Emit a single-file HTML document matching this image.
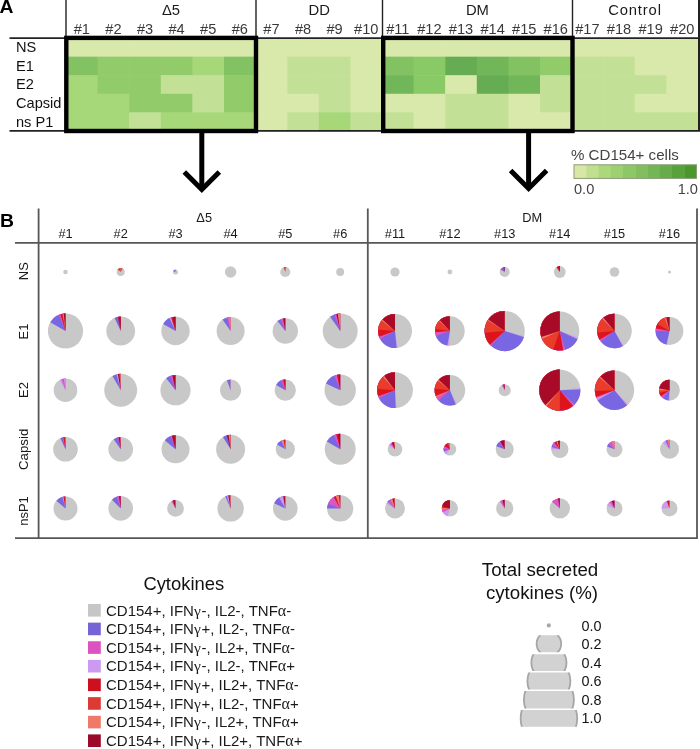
<!DOCTYPE html>
<html><head><meta charset="utf-8"><title>Figure</title>
<style>html,body{margin:0;padding:0;background:#fff;} body{width:700px;height:749px;overflow:hidden;} svg{display:block;will-change:transform;}</style>
</head><body>
<svg width="700" height="749" viewBox="0 0 700 749"><defs><clipPath id="cb0"><rect x="500" y="635.3" width="100" height="16.90000000000009"/></clipPath><clipPath id="cb1"><rect x="500" y="654.2" width="100" height="16.899999999999977"/></clipPath><clipPath id="cb2"><rect x="500" y="672.6" width="100" height="16.899999999999977"/></clipPath><clipPath id="cb3"><rect x="500" y="691.0" width="100" height="17.399999999999977"/></clipPath><clipPath id="cb4"><rect x="500" y="710.0" width="100" height="16.799999999999955"/></clipPath></defs>
<rect x="0" y="0" width="700" height="749" fill="#fff"/>
<rect x="66.00" y="38.10" width="32.20" height="19.16" fill="#d9e8ab"/>
<rect x="66.00" y="56.66" width="32.20" height="19.16" fill="#82c262"/>
<rect x="66.00" y="75.22" width="32.20" height="19.16" fill="#a6d87a"/>
<rect x="66.00" y="93.78" width="32.20" height="19.16" fill="#a6d87a"/>
<rect x="66.00" y="112.34" width="32.20" height="19.16" fill="#a6d87a"/>
<rect x="97.60" y="38.10" width="32.20" height="19.16" fill="#d9e8ab"/>
<rect x="97.60" y="56.66" width="32.20" height="19.16" fill="#92cc6a"/>
<rect x="97.60" y="75.22" width="32.20" height="19.16" fill="#92cc6a"/>
<rect x="97.60" y="93.78" width="32.20" height="19.16" fill="#a6d87a"/>
<rect x="97.60" y="112.34" width="32.20" height="19.16" fill="#a6d87a"/>
<rect x="129.20" y="38.10" width="32.20" height="19.16" fill="#d9e8ab"/>
<rect x="129.20" y="56.66" width="32.20" height="19.16" fill="#92cc6a"/>
<rect x="129.20" y="75.22" width="32.20" height="19.16" fill="#92cc6a"/>
<rect x="129.20" y="93.78" width="32.20" height="19.16" fill="#92cc6a"/>
<rect x="129.20" y="112.34" width="32.20" height="19.16" fill="#c2e196"/>
<rect x="160.80" y="38.10" width="32.20" height="19.16" fill="#d9e8ab"/>
<rect x="160.80" y="56.66" width="32.20" height="19.16" fill="#92cc6a"/>
<rect x="160.80" y="75.22" width="32.20" height="19.16" fill="#c2e196"/>
<rect x="160.80" y="93.78" width="32.20" height="19.16" fill="#92cc6a"/>
<rect x="160.80" y="112.34" width="32.20" height="19.16" fill="#a6d87a"/>
<rect x="192.40" y="38.10" width="32.20" height="19.16" fill="#d9e8ab"/>
<rect x="192.40" y="56.66" width="32.20" height="19.16" fill="#a6d87a"/>
<rect x="192.40" y="75.22" width="32.20" height="19.16" fill="#c2e196"/>
<rect x="192.40" y="93.78" width="32.20" height="19.16" fill="#c2e196"/>
<rect x="192.40" y="112.34" width="32.20" height="19.16" fill="#a6d87a"/>
<rect x="224.00" y="38.10" width="32.20" height="19.16" fill="#d9e8ab"/>
<rect x="224.00" y="56.66" width="32.20" height="19.16" fill="#82c262"/>
<rect x="224.00" y="75.22" width="32.20" height="19.16" fill="#92cc6a"/>
<rect x="224.00" y="93.78" width="32.20" height="19.16" fill="#92cc6a"/>
<rect x="224.00" y="112.34" width="32.20" height="19.16" fill="#a6d87a"/>
<rect x="255.60" y="38.10" width="32.20" height="19.16" fill="#d9e8ab"/>
<rect x="255.60" y="56.66" width="32.20" height="19.16" fill="#d9e8ab"/>
<rect x="255.60" y="75.22" width="32.20" height="19.16" fill="#d9e8ab"/>
<rect x="255.60" y="93.78" width="32.20" height="19.16" fill="#d9e8ab"/>
<rect x="255.60" y="112.34" width="32.20" height="19.16" fill="#d9e8ab"/>
<rect x="287.20" y="38.10" width="32.20" height="19.16" fill="#d9e8ab"/>
<rect x="287.20" y="56.66" width="32.20" height="19.16" fill="#c2e196"/>
<rect x="287.20" y="75.22" width="32.20" height="19.16" fill="#c2e196"/>
<rect x="287.20" y="93.78" width="32.20" height="19.16" fill="#d9e8ab"/>
<rect x="287.20" y="112.34" width="32.20" height="19.16" fill="#c2e196"/>
<rect x="318.80" y="38.10" width="32.20" height="19.16" fill="#d9e8ab"/>
<rect x="318.80" y="56.66" width="32.20" height="19.16" fill="#c2e196"/>
<rect x="318.80" y="75.22" width="32.20" height="19.16" fill="#c2e196"/>
<rect x="318.80" y="93.78" width="32.20" height="19.16" fill="#c2e196"/>
<rect x="318.80" y="112.34" width="32.20" height="19.16" fill="#a6d87a"/>
<rect x="350.40" y="38.10" width="32.20" height="19.16" fill="#d9e8ab"/>
<rect x="350.40" y="56.66" width="32.20" height="19.16" fill="#d9e8ab"/>
<rect x="350.40" y="75.22" width="32.20" height="19.16" fill="#d9e8ab"/>
<rect x="350.40" y="93.78" width="32.20" height="19.16" fill="#d9e8ab"/>
<rect x="350.40" y="112.34" width="32.20" height="19.16" fill="#c2e196"/>
<rect x="382.00" y="38.10" width="32.20" height="19.16" fill="#d9e8ab"/>
<rect x="382.00" y="56.66" width="32.20" height="19.16" fill="#82c262"/>
<rect x="382.00" y="75.22" width="32.20" height="19.16" fill="#72b65a"/>
<rect x="382.00" y="93.78" width="32.20" height="19.16" fill="#d9e8ab"/>
<rect x="382.00" y="112.34" width="32.20" height="19.16" fill="#c2e196"/>
<rect x="413.60" y="38.10" width="32.20" height="19.16" fill="#d9e8ab"/>
<rect x="413.60" y="56.66" width="32.20" height="19.16" fill="#8aca66"/>
<rect x="413.60" y="75.22" width="32.20" height="19.16" fill="#8aca66"/>
<rect x="413.60" y="93.78" width="32.20" height="19.16" fill="#d9e8ab"/>
<rect x="413.60" y="112.34" width="32.20" height="19.16" fill="#d9e8ab"/>
<rect x="445.20" y="38.10" width="32.20" height="19.16" fill="#d9e8ab"/>
<rect x="445.20" y="56.66" width="32.20" height="19.16" fill="#66ac52"/>
<rect x="445.20" y="75.22" width="32.20" height="19.16" fill="#d9e8ab"/>
<rect x="445.20" y="93.78" width="32.20" height="19.16" fill="#c2e196"/>
<rect x="445.20" y="112.34" width="32.20" height="19.16" fill="#c2e196"/>
<rect x="476.80" y="38.10" width="32.20" height="19.16" fill="#d9e8ab"/>
<rect x="476.80" y="56.66" width="32.20" height="19.16" fill="#72b65a"/>
<rect x="476.80" y="75.22" width="32.20" height="19.16" fill="#66ac52"/>
<rect x="476.80" y="93.78" width="32.20" height="19.16" fill="#c2e196"/>
<rect x="476.80" y="112.34" width="32.20" height="19.16" fill="#c2e196"/>
<rect x="508.40" y="38.10" width="32.20" height="19.16" fill="#d9e8ab"/>
<rect x="508.40" y="56.66" width="32.20" height="19.16" fill="#82c262"/>
<rect x="508.40" y="75.22" width="32.20" height="19.16" fill="#72b65a"/>
<rect x="508.40" y="93.78" width="32.20" height="19.16" fill="#d9e8ab"/>
<rect x="508.40" y="112.34" width="32.20" height="19.16" fill="#d9e8ab"/>
<rect x="540.00" y="38.10" width="32.20" height="19.16" fill="#d9e8ab"/>
<rect x="540.00" y="56.66" width="32.20" height="19.16" fill="#92cc6a"/>
<rect x="540.00" y="75.22" width="32.20" height="19.16" fill="#c2e196"/>
<rect x="540.00" y="93.78" width="32.20" height="19.16" fill="#c2e196"/>
<rect x="540.00" y="112.34" width="32.20" height="19.16" fill="#d9e8ab"/>
<rect x="571.60" y="38.10" width="32.20" height="19.16" fill="#d9e8ab"/>
<rect x="571.60" y="56.66" width="32.20" height="19.16" fill="#c2e196"/>
<rect x="571.60" y="75.22" width="32.20" height="19.16" fill="#c2e196"/>
<rect x="571.60" y="93.78" width="32.20" height="19.16" fill="#c2e196"/>
<rect x="571.60" y="112.34" width="32.20" height="19.16" fill="#c2e196"/>
<rect x="603.20" y="38.10" width="32.20" height="19.16" fill="#d9e8ab"/>
<rect x="603.20" y="56.66" width="32.20" height="19.16" fill="#c2e196"/>
<rect x="603.20" y="75.22" width="32.20" height="19.16" fill="#c2e196"/>
<rect x="603.20" y="93.78" width="32.20" height="19.16" fill="#c2e196"/>
<rect x="603.20" y="112.34" width="32.20" height="19.16" fill="#c2e196"/>
<rect x="634.80" y="38.10" width="32.20" height="19.16" fill="#d9e8ab"/>
<rect x="634.80" y="56.66" width="32.20" height="19.16" fill="#d9e8ab"/>
<rect x="634.80" y="75.22" width="32.20" height="19.16" fill="#c2e196"/>
<rect x="634.80" y="93.78" width="32.20" height="19.16" fill="#d9e8ab"/>
<rect x="634.80" y="112.34" width="32.20" height="19.16" fill="#c2e196"/>
<rect x="666.40" y="38.10" width="32.20" height="19.16" fill="#d9e8ab"/>
<rect x="666.40" y="56.66" width="32.20" height="19.16" fill="#d9e8ab"/>
<rect x="666.40" y="75.22" width="32.20" height="19.16" fill="#d9e8ab"/>
<rect x="666.40" y="93.78" width="32.20" height="19.16" fill="#d9e8ab"/>
<rect x="666.40" y="112.34" width="32.20" height="19.16" fill="#c2e196"/>
<line x1="9.5" y1="38.1" x2="698.0" y2="38.1" stroke="#222" stroke-width="1.6"/>
<line x1="9.5" y1="130.9" x2="698.0" y2="130.9" stroke="#222" stroke-width="1.6"/>
<line x1="66.0" y1="0" x2="66.0" y2="38.1" stroke="#222" stroke-width="1.4"/>
<line x1="256.0" y1="0" x2="256.0" y2="38.1" stroke="#222" stroke-width="1.4"/>
<line x1="382.5" y1="0" x2="382.5" y2="38.1" stroke="#222" stroke-width="1.4"/>
<line x1="572.5" y1="0" x2="572.5" y2="38.1" stroke="#222" stroke-width="1.4"/>
<line x1="699" y1="0" x2="699" y2="131.70000000000002" stroke="#222" stroke-width="2"/>
<rect x="66.3" y="37.9" width="189.7" height="93.1" fill="none" stroke="#000" stroke-width="4.4"/>
<rect x="383.2" y="37.9" width="189.3" height="93.1" fill="none" stroke="#000" stroke-width="4.4"/>
<text transform="translate(-0.6,12.9) scale(1.04,1)" x="0" y="0" font-family='"Liberation Sans", sans-serif' font-weight="bold" font-size="18.6" fill="#000">A</text>
<text x="81.8" y="34.3" text-anchor="middle" font-family='"Liberation Sans", sans-serif' font-size="14.6" fill="#3a3a3a">#1</text>
<text x="113.4" y="34.3" text-anchor="middle" font-family='"Liberation Sans", sans-serif' font-size="14.6" fill="#3a3a3a">#2</text>
<text x="145.0" y="34.3" text-anchor="middle" font-family='"Liberation Sans", sans-serif' font-size="14.6" fill="#3a3a3a">#3</text>
<text x="176.6" y="34.3" text-anchor="middle" font-family='"Liberation Sans", sans-serif' font-size="14.6" fill="#3a3a3a">#4</text>
<text x="208.2" y="34.3" text-anchor="middle" font-family='"Liberation Sans", sans-serif' font-size="14.6" fill="#3a3a3a">#5</text>
<text x="239.8" y="34.3" text-anchor="middle" font-family='"Liberation Sans", sans-serif' font-size="14.6" fill="#3a3a3a">#6</text>
<text x="271.4" y="34.3" text-anchor="middle" font-family='"Liberation Sans", sans-serif' font-size="14.6" fill="#3a3a3a">#7</text>
<text x="303.0" y="34.3" text-anchor="middle" font-family='"Liberation Sans", sans-serif' font-size="14.6" fill="#3a3a3a">#8</text>
<text x="334.6" y="34.3" text-anchor="middle" font-family='"Liberation Sans", sans-serif' font-size="14.6" fill="#3a3a3a">#9</text>
<text x="366.2" y="34.3" text-anchor="middle" font-family='"Liberation Sans", sans-serif' font-size="14.6" fill="#3a3a3a">#10</text>
<text x="397.8" y="34.3" text-anchor="middle" font-family='"Liberation Sans", sans-serif' font-size="14.6" fill="#3a3a3a">#11</text>
<text x="429.4" y="34.3" text-anchor="middle" font-family='"Liberation Sans", sans-serif' font-size="14.6" fill="#3a3a3a">#12</text>
<text x="461.0" y="34.3" text-anchor="middle" font-family='"Liberation Sans", sans-serif' font-size="14.6" fill="#3a3a3a">#13</text>
<text x="492.6" y="34.3" text-anchor="middle" font-family='"Liberation Sans", sans-serif' font-size="14.6" fill="#3a3a3a">#14</text>
<text x="524.2" y="34.3" text-anchor="middle" font-family='"Liberation Sans", sans-serif' font-size="14.6" fill="#3a3a3a">#15</text>
<text x="555.8" y="34.3" text-anchor="middle" font-family='"Liberation Sans", sans-serif' font-size="14.6" fill="#3a3a3a">#16</text>
<text x="587.4" y="34.3" text-anchor="middle" font-family='"Liberation Sans", sans-serif' font-size="14.6" fill="#3a3a3a">#17</text>
<text x="619.0" y="34.3" text-anchor="middle" font-family='"Liberation Sans", sans-serif' font-size="14.6" fill="#3a3a3a">#18</text>
<text x="650.6" y="34.3" text-anchor="middle" font-family='"Liberation Sans", sans-serif' font-size="14.6" fill="#3a3a3a">#19</text>
<text x="682.2" y="34.3" text-anchor="middle" font-family='"Liberation Sans", sans-serif' font-size="14.6" fill="#3a3a3a">#20</text>
<text x="171.0" y="15.0" text-anchor="middle" font-family='"Liberation Sans", sans-serif' font-size="14.8" fill="#1a1a1a">Δ5</text>
<text x="319.2" y="15.0" text-anchor="middle" font-family='"Liberation Sans", sans-serif' font-size="14.8" fill="#1a1a1a">DD</text>
<text x="477.4" y="15.0" text-anchor="middle" font-family='"Liberation Sans", sans-serif' font-size="14.8" fill="#1a1a1a">DM</text>
<text x="635.0" y="15.0" text-anchor="middle" font-family='"Liberation Sans", sans-serif' font-size="14.8" fill="#1a1a1a" letter-spacing="0.85">Control</text>
<text x="16" y="52.0" font-family='"Liberation Sans", sans-serif' font-size="14.6" fill="#111">NS</text>
<text x="16" y="70.8" font-family='"Liberation Sans", sans-serif' font-size="14.6" fill="#111">E1</text>
<text x="16" y="89.2" font-family='"Liberation Sans", sans-serif' font-size="14.6" fill="#111">E2</text>
<text x="16" y="107.8" font-family='"Liberation Sans", sans-serif' font-size="14.6" fill="#111">Capsid</text>
<text x="16" y="126.5" font-family='"Liberation Sans", sans-serif' font-size="14.6" fill="#111">ns P1</text>
<line x1="201.8" y1="131" x2="201.8" y2="187.5" stroke="#000" stroke-width="5"/>
<polyline points="184.3,172.0 201.8,189.5 219.3,172.0" fill="none" stroke="#000" stroke-width="5" stroke-linejoin="miter" stroke-miterlimit="10"/>
<line x1="528.6" y1="131" x2="528.6" y2="186.5" stroke="#000" stroke-width="5"/>
<polyline points="510.6,170.5 528.6,188.5 546.6,170.5" fill="none" stroke="#000" stroke-width="5" stroke-linejoin="miter" stroke-miterlimit="10"/>
<text x="571" y="159.6" font-family='"Liberation Sans", sans-serif' font-size="15.1" fill="#444">% CD154+ cells</text>
<rect x="574.00" y="164.8" width="12.65" height="13.6" fill="#d8e6a6"/>
<rect x="586.25" y="164.8" width="12.65" height="13.6" fill="#c0e090"/>
<rect x="598.50" y="164.8" width="12.65" height="13.6" fill="#aad87a"/>
<rect x="610.75" y="164.8" width="12.65" height="13.6" fill="#9cd070"/>
<rect x="623.00" y="164.8" width="12.65" height="13.6" fill="#8ec866"/>
<rect x="635.25" y="164.8" width="12.65" height="13.6" fill="#82be5e"/>
<rect x="647.50" y="164.8" width="12.65" height="13.6" fill="#74b656"/>
<rect x="659.75" y="164.8" width="12.65" height="13.6" fill="#66ac4a"/>
<rect x="672.00" y="164.8" width="12.65" height="13.6" fill="#58a23c"/>
<rect x="684.25" y="164.8" width="12.65" height="13.6" fill="#4a982c"/>
<rect x="574.0" y="164.8" width="122.5" height="13.6" fill="none" stroke="#8c9c78" stroke-width="1"/>
<text x="574" y="194" font-family='"Liberation Sans", sans-serif' font-size="14.6" fill="#444">0.0</text>
<text x="698" y="194" text-anchor="end" font-family='"Liberation Sans", sans-serif' font-size="14.6" fill="#444">1.0</text>
<text transform="translate(-0.1,226.9) scale(1.04,1)" x="0" y="0" font-family='"Liberation Sans", sans-serif' font-weight="bold" font-size="18.6" fill="#000">B</text>
<line x1="15" y1="242.8" x2="697" y2="242.8" stroke="#575757" stroke-width="1.8"/>
<line x1="15" y1="538.2" x2="697.5" y2="538.2" stroke="#575757" stroke-width="1.8"/>
<line x1="38.6" y1="208.5" x2="38.6" y2="538.2" stroke="#575757" stroke-width="1.8"/>
<line x1="367.8" y1="208.5" x2="367.8" y2="538.2" stroke="#575757" stroke-width="1.8"/>
<line x1="697.0" y1="208.5" x2="697.0" y2="538.9" stroke="#575757" stroke-width="1.8"/>
<text x="65.5" y="238.4" text-anchor="middle" font-family='"Liberation Sans", sans-serif' font-size="12.8" fill="#1a1a1a">#1</text>
<text x="120.7" y="238.4" text-anchor="middle" font-family='"Liberation Sans", sans-serif' font-size="12.8" fill="#1a1a1a">#2</text>
<text x="175.5" y="238.4" text-anchor="middle" font-family='"Liberation Sans", sans-serif' font-size="12.8" fill="#1a1a1a">#3</text>
<text x="230.6" y="238.4" text-anchor="middle" font-family='"Liberation Sans", sans-serif' font-size="12.8" fill="#1a1a1a">#4</text>
<text x="285.3" y="238.4" text-anchor="middle" font-family='"Liberation Sans", sans-serif' font-size="12.8" fill="#1a1a1a">#5</text>
<text x="340.2" y="238.4" text-anchor="middle" font-family='"Liberation Sans", sans-serif' font-size="12.8" fill="#1a1a1a">#6</text>
<text x="395.0" y="238.4" text-anchor="middle" font-family='"Liberation Sans", sans-serif' font-size="12.8" fill="#1a1a1a">#11</text>
<text x="449.9" y="238.4" text-anchor="middle" font-family='"Liberation Sans", sans-serif' font-size="12.8" fill="#1a1a1a">#12</text>
<text x="504.7" y="238.4" text-anchor="middle" font-family='"Liberation Sans", sans-serif' font-size="12.8" fill="#1a1a1a">#13</text>
<text x="559.8" y="238.4" text-anchor="middle" font-family='"Liberation Sans", sans-serif' font-size="12.8" fill="#1a1a1a">#14</text>
<text x="614.5" y="238.4" text-anchor="middle" font-family='"Liberation Sans", sans-serif' font-size="12.8" fill="#1a1a1a">#15</text>
<text x="669.5" y="238.4" text-anchor="middle" font-family='"Liberation Sans", sans-serif' font-size="12.8" fill="#1a1a1a">#16</text>
<text x="204.2" y="221.6" text-anchor="middle" font-family='"Liberation Sans", sans-serif' font-size="12.8" fill="#1a1a1a">Δ5</text>
<text x="532.3" y="222.3" text-anchor="middle" font-family='"Liberation Sans", sans-serif' font-size="12.8" fill="#1a1a1a">DM</text>
<text transform="translate(28.2,271.2) rotate(-90)" text-anchor="middle" font-family='"Liberation Sans", sans-serif' font-size="13" fill="#1a1a1a">NS</text>
<text transform="translate(28.2,331.5) rotate(-90)" text-anchor="middle" font-family='"Liberation Sans", sans-serif' font-size="13" fill="#1a1a1a">E1</text>
<text transform="translate(28.2,390.0) rotate(-90)" text-anchor="middle" font-family='"Liberation Sans", sans-serif' font-size="13" fill="#1a1a1a">E2</text>
<text transform="translate(28.2,449.4) rotate(-90)" text-anchor="middle" font-family='"Liberation Sans", sans-serif' font-size="13.3" fill="#1a1a1a">Capsid</text>
<text transform="translate(28.2,511.0) rotate(-90)" text-anchor="middle" font-family='"Liberation Sans", sans-serif' font-size="13" fill="#1a1a1a">nsP1</text>
<circle cx="65.5" cy="272.0" r="2.3" fill="#c8c8c8"/>
<circle cx="120.7" cy="272.0" r="4.0" fill="#c8c8c8"/>
<path d="M120.70,272.00 L117.64,269.43 A4.0,4.0 0 0 1 120.70,268.00 Z" fill="#ea3c2a"/>
<path d="M120.70,272.00 L120.70,268.00 A4.0,4.0 0 0 1 122.70,268.54 Z" fill="#ea3c2a"/>
<circle cx="175.5" cy="272.0" r="2.5" fill="#c8c8c8"/>
<path d="M175.50,272.00 L173.15,271.14 A2.5,2.5 0 0 1 175.50,269.50 Z" fill="#7866e2"/>
<circle cx="230.6" cy="272.0" r="5.7" fill="#c8c8c8"/>
<circle cx="285.3" cy="272.0" r="5.1" fill="#c8c8c8"/>
<path d="M285.30,272.00 L283.56,267.21 A5.1,5.1 0 0 1 285.30,266.90 Z" fill="#ea3c2a"/>
<path d="M285.30,272.00 L285.30,266.90 A5.1,5.1 0 0 1 286.36,267.01 Z" fill="#ea3c2a"/>
<circle cx="340.2" cy="272.0" r="4.0" fill="#c8c8c8"/>
<circle cx="395.0" cy="272.0" r="4.6" fill="#c8c8c8"/>
<circle cx="449.9" cy="272.0" r="2.4" fill="#c8c8c8"/>
<circle cx="504.7" cy="272.0" r="5.0" fill="#c8c8c8"/>
<path d="M504.70,272.00 L500.37,269.50 A5.0,5.0 0 0 1 504.70,267.00 Z" fill="#7866e2"/>
<path d="M504.70,272.00 L503.41,267.17 A5.0,5.0 0 0 1 504.70,267.00 Z" fill="#a80a28"/>
<circle cx="559.8" cy="272.0" r="5.9" fill="#c8c8c8"/>
<path d="M559.80,272.00 L556.42,267.17 A5.9,5.9 0 0 1 559.80,266.10 Z" fill="#de141c"/>
<path d="M559.80,272.00 L558.57,266.23 A5.9,5.9 0 0 1 559.80,266.10 Z" fill="#a80a28"/>
<circle cx="614.5" cy="272.0" r="4.8" fill="#c8c8c8"/>
<circle cx="669.5" cy="272.0" r="1.5" fill="#c8c8c8"/>
<circle cx="65.5" cy="331.0" r="17.6" fill="#c8c8c8"/>
<path d="M65.50,331.00 L50.26,322.20 A17.6,17.6 0 0 1 65.50,313.40 Z" fill="#7866e2"/>
<path d="M65.50,331.00 L58.91,314.68 A17.6,17.6 0 0 1 65.50,313.40 Z" fill="#dd55c4"/>
<path d="M65.50,331.00 L60.35,314.17 A17.6,17.6 0 0 1 65.50,313.40 Z" fill="#de141c"/>
<path d="M65.50,331.00 L62.44,313.67 A17.6,17.6 0 0 1 65.50,313.40 Z" fill="#f27c6c"/>
<path d="M65.50,331.00 L63.66,313.50 A17.6,17.6 0 0 1 65.50,313.40 Z" fill="#a80a28"/>
<circle cx="120.7" cy="331.0" r="14.4" fill="#c8c8c8"/>
<path d="M120.70,331.00 L114.61,317.95 A14.4,14.4 0 0 1 120.70,316.60 Z" fill="#7866e2"/>
<path d="M120.70,331.00 L117.71,316.91 A14.4,14.4 0 0 1 120.70,316.60 Z" fill="#de141c"/>
<path d="M120.70,331.00 L119.19,316.68 A14.4,14.4 0 0 1 120.70,316.60 Z" fill="#a80a28"/>
<circle cx="175.5" cy="331.0" r="14.2" fill="#c8c8c8"/>
<path d="M175.50,331.00 L163.20,323.90 A14.2,14.2 0 0 1 175.50,316.80 Z" fill="#7866e2"/>
<path d="M175.50,331.00 L169.50,318.13 A14.2,14.2 0 0 1 175.50,316.80 Z" fill="#cc99ee"/>
<path d="M175.50,331.00 L171.11,317.49 A14.2,14.2 0 0 1 175.50,316.80 Z" fill="#de141c"/>
<path d="M175.50,331.00 L173.03,317.02 A14.2,14.2 0 0 1 175.50,316.80 Z" fill="#a80a28"/>
<circle cx="230.6" cy="331.0" r="14.0" fill="#c8c8c8"/>
<path d="M230.60,331.00 L222.57,319.53 A14.0,14.0 0 0 1 230.60,317.00 Z" fill="#7866e2"/>
<path d="M230.60,331.00 L226.98,317.48 A14.0,14.0 0 0 1 230.60,317.00 Z" fill="#dd55c4"/>
<path d="M230.60,331.00 L228.65,317.14 A14.0,14.0 0 0 1 230.60,317.00 Z" fill="#f27c6c"/>
<circle cx="285.3" cy="331.0" r="12.7" fill="#c8c8c8"/>
<path d="M285.30,331.00 L277.48,320.99 A12.7,12.7 0 0 1 285.30,318.30 Z" fill="#7866e2"/>
<path d="M285.30,331.00 L280.54,319.22 A12.7,12.7 0 0 1 285.30,318.30 Z" fill="#dd55c4"/>
<path d="M285.30,331.00 L283.09,318.49 A12.7,12.7 0 0 1 285.30,318.30 Z" fill="#a80a28"/>
<circle cx="340.2" cy="331.0" r="17.5" fill="#c8c8c8"/>
<path d="M340.20,331.00 L330.16,316.66 A17.5,17.5 0 0 1 340.20,313.50 Z" fill="#7866e2"/>
<path d="M340.20,331.00 L334.21,314.56 A17.5,17.5 0 0 1 340.20,313.50 Z" fill="#dd55c4"/>
<path d="M340.20,331.00 L336.26,313.95 A17.5,17.5 0 0 1 340.20,313.50 Z" fill="#a80a28"/>
<path d="M340.20,331.00 L337.76,313.67 A17.5,17.5 0 0 1 340.20,313.50 Z" fill="#f27c6c"/>
<circle cx="395.0" cy="331.0" r="17.0" fill="#c8c8c8"/>
<path d="M395.00,331.00 L397.66,347.79 A17.0,17.0 0 1 1 395.00,314.00 Z" fill="#cc99ee"/>
<path d="M395.00,331.00 L396.48,347.94 A17.0,17.0 0 1 1 395.00,314.00 Z" fill="#7866e2"/>
<path d="M395.00,331.00 L379.99,338.98 A17.0,17.0 0 0 1 395.00,314.00 Z" fill="#dd55c4"/>
<path d="M395.00,331.00 L379.03,336.81 A17.0,17.0 0 0 1 395.00,314.00 Z" fill="#de141c"/>
<path d="M395.00,331.00 L378.06,329.52 A17.0,17.0 0 0 1 395.00,314.00 Z" fill="#ea3c2a"/>
<path d="M395.00,331.00 L381.60,320.53 A17.0,17.0 0 0 1 395.00,314.00 Z" fill="#f27c6c"/>
<path d="M395.00,331.00 L382.37,319.62 A17.0,17.0 0 0 1 395.00,314.00 Z" fill="#a80a28"/>
<circle cx="449.9" cy="331.0" r="14.8" fill="#c8c8c8"/>
<path d="M449.90,331.00 L449.13,345.78 A14.8,14.8 0 0 1 449.90,316.20 Z" fill="#cc99ee"/>
<path d="M449.90,331.00 L447.33,345.58 A14.8,14.8 0 0 1 449.90,316.20 Z" fill="#7866e2"/>
<path d="M449.90,331.00 L435.99,336.06 A14.8,14.8 0 0 1 449.90,316.20 Z" fill="#dd55c4"/>
<path d="M449.90,331.00 L435.16,332.29 A14.8,14.8 0 0 1 449.90,316.20 Z" fill="#de141c"/>
<path d="M449.90,331.00 L435.24,328.94 A14.8,14.8 0 0 1 449.90,316.20 Z" fill="#ea3c2a"/>
<path d="M449.90,331.00 L439.08,320.91 A14.8,14.8 0 0 1 449.90,316.20 Z" fill="#f27c6c"/>
<path d="M449.90,331.00 L439.81,320.18 A14.8,14.8 0 0 1 449.90,316.20 Z" fill="#a80a28"/>
<circle cx="504.7" cy="331.0" r="20.1" fill="#c8c8c8"/>
<path d="M504.70,331.00 L524.12,336.20 A20.1,20.1 0 1 1 504.70,310.90 Z" fill="#cc99ee"/>
<path d="M504.70,331.00 L523.82,337.21 A20.1,20.1 0 1 1 504.70,310.90 Z" fill="#7866e2"/>
<path d="M504.70,331.00 L490.99,345.70 A20.1,20.1 0 0 1 504.70,310.90 Z" fill="#dd55c4"/>
<path d="M504.70,331.00 L490.00,344.71 A20.1,20.1 0 0 1 504.70,310.90 Z" fill="#de141c"/>
<path d="M504.70,331.00 L484.68,332.75 A20.1,20.1 0 0 1 504.70,310.90 Z" fill="#ea3c2a"/>
<path d="M504.70,331.00 L487.65,320.35 A20.1,20.1 0 0 1 504.70,310.90 Z" fill="#f27c6c"/>
<path d="M504.70,331.00 L488.24,319.47 A20.1,20.1 0 0 1 504.70,310.90 Z" fill="#a80a28"/>
<circle cx="559.8" cy="331.0" r="19.5" fill="#c8c8c8"/>
<path d="M559.80,331.00 L578.12,337.67 A19.5,19.5 0 1 1 559.80,311.50 Z" fill="#cc99ee"/>
<path d="M559.80,331.00 L577.47,339.24 A19.5,19.5 0 1 1 559.80,311.50 Z" fill="#7866e2"/>
<path d="M559.80,331.00 L565.50,349.65 A19.5,19.5 0 1 1 559.80,311.50 Z" fill="#dd55c4"/>
<path d="M559.80,331.00 L563.19,350.20 A19.5,19.5 0 1 1 559.80,311.50 Z" fill="#de141c"/>
<path d="M559.80,331.00 L553.13,349.32 A19.5,19.5 0 0 1 559.80,311.50 Z" fill="#ea3c2a"/>
<path d="M559.80,331.00 L541.99,338.93 A19.5,19.5 0 0 1 559.80,311.50 Z" fill="#f27c6c"/>
<path d="M559.80,331.00 L541.25,337.03 A19.5,19.5 0 0 1 559.80,311.50 Z" fill="#a80a28"/>
<circle cx="614.5" cy="331.0" r="17.3" fill="#c8c8c8"/>
<path d="M614.50,331.00 L623.67,345.67 A17.3,17.3 0 1 1 614.50,313.70 Z" fill="#cc99ee"/>
<path d="M614.50,331.00 L622.62,346.27 A17.3,17.3 0 1 1 614.50,313.70 Z" fill="#7866e2"/>
<path d="M614.50,331.00 L600.68,341.41 A17.3,17.3 0 0 1 614.50,313.70 Z" fill="#dd55c4"/>
<path d="M614.50,331.00 L599.52,339.65 A17.3,17.3 0 0 1 614.50,313.70 Z" fill="#de141c"/>
<path d="M614.50,331.00 L597.27,332.51 A17.3,17.3 0 0 1 614.50,313.70 Z" fill="#ea3c2a"/>
<path d="M614.50,331.00 L602.27,318.77 A17.3,17.3 0 0 1 614.50,313.70 Z" fill="#f27c6c"/>
<path d="M614.50,331.00 L603.38,317.75 A17.3,17.3 0 0 1 614.50,313.70 Z" fill="#a80a28"/>
<circle cx="669.5" cy="331.0" r="13.9" fill="#c8c8c8"/>
<path d="M669.50,331.00 L667.33,344.73 A13.9,13.9 0 0 1 669.50,317.10 Z" fill="#cc99ee"/>
<path d="M669.50,331.00 L666.37,344.54 A13.9,13.9 0 0 1 669.50,317.10 Z" fill="#7866e2"/>
<path d="M669.50,331.00 L655.60,331.00 A13.9,13.9 0 0 1 669.50,317.10 Z" fill="#dd55c4"/>
<path d="M669.50,331.00 L655.81,328.59 A13.9,13.9 0 0 1 669.50,317.10 Z" fill="#de141c"/>
<path d="M669.50,331.00 L657.46,324.05 A13.9,13.9 0 0 1 669.50,317.10 Z" fill="#ea3c2a"/>
<path d="M669.50,331.00 L664.75,317.94 A13.9,13.9 0 0 1 669.50,317.10 Z" fill="#f27c6c"/>
<path d="M669.50,331.00 L666.14,317.51 A13.9,13.9 0 0 1 669.50,317.10 Z" fill="#a80a28"/>
<circle cx="65.5" cy="390.2" r="11.8" fill="#c8c8c8"/>
<path d="M65.50,390.20 L59.60,379.98 A11.8,11.8 0 0 1 65.50,378.40 Z" fill="#cc99ee"/>
<path d="M65.50,390.20 L61.46,379.11 A11.8,11.8 0 0 1 65.50,378.40 Z" fill="#dd55c4"/>
<path d="M65.50,390.20 L63.86,378.51 A11.8,11.8 0 0 1 65.50,378.40 Z" fill="#cc99ee"/>
<circle cx="120.7" cy="390.2" r="16.5" fill="#c8c8c8"/>
<path d="M120.70,390.20 L112.45,375.91 A16.5,16.5 0 0 1 120.70,373.70 Z" fill="#7866e2"/>
<path d="M120.70,390.20 L116.43,374.26 A16.5,16.5 0 0 1 120.70,373.70 Z" fill="#cc99ee"/>
<path d="M120.70,390.20 L117.83,373.95 A16.5,16.5 0 0 1 120.70,373.70 Z" fill="#a80a28"/>
<path d="M120.70,390.20 L119.55,373.74 A16.5,16.5 0 0 1 120.70,373.70 Z" fill="#f27c6c"/>
<circle cx="175.5" cy="390.2" r="15.1" fill="#c8c8c8"/>
<path d="M175.50,390.20 L166.20,378.30 A15.1,15.1 0 0 1 175.50,375.10 Z" fill="#7866e2"/>
<path d="M175.50,390.20 L170.34,376.01 A15.1,15.1 0 0 1 175.50,375.10 Z" fill="#dd55c4"/>
<path d="M175.50,390.20 L172.36,375.43 A15.1,15.1 0 0 1 175.50,375.10 Z" fill="#a80a28"/>
<circle cx="230.6" cy="390.2" r="10.6" fill="#c8c8c8"/>
<path d="M230.60,390.20 L226.97,380.24 A10.6,10.6 0 0 1 230.60,379.60 Z" fill="#7866e2"/>
<path d="M230.60,390.20 L230.23,379.61 A10.6,10.6 0 0 1 230.60,379.60 Z" fill="#f27c6c"/>
<circle cx="285.3" cy="390.2" r="10.6" fill="#c8c8c8"/>
<path d="M285.30,390.20 L276.12,384.90 A10.6,10.6 0 0 1 285.30,379.60 Z" fill="#7866e2"/>
<path d="M285.30,390.20 L280.82,380.59 A10.6,10.6 0 0 1 285.30,379.60 Z" fill="#dd55c4"/>
<path d="M285.30,390.20 L283.10,379.83 A10.6,10.6 0 0 1 285.30,379.60 Z" fill="#de141c"/>
<path d="M285.30,390.20 L284.56,379.63 A10.6,10.6 0 0 1 285.30,379.60 Z" fill="#a80a28"/>
<circle cx="340.2" cy="390.2" r="15.7" fill="#c8c8c8"/>
<path d="M340.20,390.20 L325.97,383.56 A15.7,15.7 0 0 1 340.20,374.50 Z" fill="#7866e2"/>
<path d="M340.20,390.20 L334.32,375.64 A15.7,15.7 0 0 1 340.20,374.50 Z" fill="#dd55c4"/>
<path d="M340.20,390.20 L336.94,374.84 A15.7,15.7 0 0 1 340.20,374.50 Z" fill="#de141c"/>
<path d="M340.20,390.20 L338.56,374.59 A15.7,15.7 0 0 1 340.20,374.50 Z" fill="#a80a28"/>
<circle cx="395.0" cy="390.2" r="17.9" fill="#c8c8c8"/>
<path d="M395.00,390.20 L396.56,408.03 A17.9,17.9 0 1 1 395.00,372.30 Z" fill="#cc99ee"/>
<path d="M395.00,390.20 L395.62,408.09 A17.9,17.9 0 1 1 395.00,372.30 Z" fill="#7866e2"/>
<path d="M395.00,390.20 L379.05,398.33 A17.9,17.9 0 0 1 395.00,372.30 Z" fill="#dd55c4"/>
<path d="M395.00,390.20 L378.18,396.32 A17.9,17.9 0 0 1 395.00,372.30 Z" fill="#de141c"/>
<path d="M395.00,390.20 L377.17,388.64 A17.9,17.9 0 0 1 395.00,372.30 Z" fill="#ea3c2a"/>
<path d="M395.00,390.20 L383.02,376.90 A17.9,17.9 0 0 1 395.00,372.30 Z" fill="#f27c6c"/>
<path d="M395.00,390.20 L384.23,375.90 A17.9,17.9 0 0 1 395.00,372.30 Z" fill="#a80a28"/>
<circle cx="449.9" cy="390.2" r="15.3" fill="#c8c8c8"/>
<path d="M449.90,390.20 L456.61,403.95 A15.3,15.3 0 1 1 449.90,374.90 Z" fill="#cc99ee"/>
<path d="M449.90,390.20 L455.63,404.39 A15.3,15.3 0 1 1 449.90,374.90 Z" fill="#7866e2"/>
<path d="M449.90,390.20 L438.53,400.44 A15.3,15.3 0 0 1 449.90,374.90 Z" fill="#dd55c4"/>
<path d="M449.90,390.20 L436.27,397.15 A15.3,15.3 0 0 1 449.90,374.90 Z" fill="#f27c6c"/>
<path d="M449.90,390.20 L435.71,395.93 A15.3,15.3 0 0 1 449.90,374.90 Z" fill="#de141c"/>
<path d="M449.90,390.20 L434.66,388.87 A15.3,15.3 0 0 1 449.90,374.90 Z" fill="#ea3c2a"/>
<path d="M449.90,390.20 L438.01,380.57 A15.3,15.3 0 0 1 449.90,374.90 Z" fill="#f27c6c"/>
<path d="M449.90,390.20 L438.71,379.77 A15.3,15.3 0 0 1 449.90,374.90 Z" fill="#a80a28"/>
<circle cx="504.7" cy="390.2" r="6.0" fill="#c8c8c8"/>
<path d="M504.70,390.20 L501.70,385.00 A6.0,6.0 0 0 1 504.70,384.20 Z" fill="#dd55c4"/>
<path d="M504.70,390.20 L503.15,384.40 A6.0,6.0 0 0 1 504.70,384.20 Z" fill="#a80a28"/>
<circle cx="559.8" cy="390.2" r="20.6" fill="#c8c8c8"/>
<path d="M559.80,390.20 L580.29,388.05 A20.6,20.6 0 1 1 559.80,369.60 Z" fill="#cc99ee"/>
<path d="M559.80,390.20 L580.39,389.48 A20.6,20.6 0 1 1 559.80,369.60 Z" fill="#7866e2"/>
<path d="M559.80,390.20 L574.62,404.51 A20.6,20.6 0 1 1 559.80,369.60 Z" fill="#dd55c4"/>
<path d="M559.80,390.20 L573.04,405.98 A20.6,20.6 0 1 1 559.80,369.60 Z" fill="#de141c"/>
<path d="M559.80,390.20 L559.80,410.80 A20.6,20.6 0 0 1 559.80,369.60 Z" fill="#ea3c2a"/>
<path d="M559.80,390.20 L546.56,405.98 A20.6,20.6 0 0 1 559.80,369.60 Z" fill="#f27c6c"/>
<path d="M559.80,390.20 L545.49,405.02 A20.6,20.6 0 0 1 559.80,369.60 Z" fill="#a80a28"/>
<circle cx="614.5" cy="390.2" r="19.7" fill="#c8c8c8"/>
<path d="M614.50,390.20 L627.94,404.61 A19.7,19.7 0 1 1 614.50,370.50 Z" fill="#cc99ee"/>
<path d="M614.50,390.20 L626.90,405.51 A19.7,19.7 0 1 1 614.50,370.50 Z" fill="#7866e2"/>
<path d="M614.50,390.20 L597.61,400.35 A19.7,19.7 0 0 1 614.50,370.50 Z" fill="#cc99ee"/>
<path d="M614.50,390.20 L596.50,398.21 A19.7,19.7 0 0 1 614.50,370.50 Z" fill="#dd55c4"/>
<path d="M614.50,390.20 L595.99,396.94 A19.7,19.7 0 0 1 614.50,370.50 Z" fill="#de141c"/>
<path d="M614.50,390.20 L594.81,390.89 A19.7,19.7 0 0 1 614.50,370.50 Z" fill="#ea3c2a"/>
<path d="M614.50,390.20 L599.41,377.54 A19.7,19.7 0 0 1 614.50,370.50 Z" fill="#f27c6c"/>
<path d="M614.50,390.20 L600.33,376.52 A19.7,19.7 0 0 1 614.50,370.50 Z" fill="#a80a28"/>
<circle cx="669.5" cy="390.2" r="10.4" fill="#c8c8c8"/>
<path d="M669.50,390.20 L669.86,400.59 A10.4,10.4 0 1 1 669.50,379.80 Z" fill="#cc99ee"/>
<path d="M669.50,390.20 L668.59,400.56 A10.4,10.4 0 0 1 669.50,379.80 Z" fill="#7866e2"/>
<path d="M669.50,390.20 L662.82,398.17 A10.4,10.4 0 0 1 669.50,379.80 Z" fill="#dd55c4"/>
<path d="M669.50,390.20 L660.98,396.17 A10.4,10.4 0 0 1 669.50,379.80 Z" fill="#de141c"/>
<path d="M669.50,390.20 L659.45,392.89 A10.4,10.4 0 0 1 669.50,379.80 Z" fill="#ea3c2a"/>
<path d="M669.50,390.20 L659.10,390.20 A10.4,10.4 0 0 1 669.50,379.80 Z" fill="#f27c6c"/>
<path d="M669.50,390.20 L659.26,388.39 A10.4,10.4 0 0 1 669.50,379.80 Z" fill="#a80a28"/>
<circle cx="65.5" cy="449.3" r="12.3" fill="#c8c8c8"/>
<path d="M65.50,449.30 L60.30,438.15 A12.3,12.3 0 0 1 65.50,437.00 Z" fill="#7866e2"/>
<path d="M65.50,449.30 L62.32,437.42 A12.3,12.3 0 0 1 65.50,437.00 Z" fill="#dd55c4"/>
<path d="M65.50,449.30 L63.36,437.19 A12.3,12.3 0 0 1 65.50,437.00 Z" fill="#de141c"/>
<path d="M65.50,449.30 L64.86,437.02 A12.3,12.3 0 0 1 65.50,437.00 Z" fill="#f27c6c"/>
<circle cx="120.7" cy="449.3" r="12.3" fill="#c8c8c8"/>
<path d="M120.70,449.30 L113.65,439.22 A12.3,12.3 0 0 1 120.70,437.00 Z" fill="#7866e2"/>
<path d="M120.70,449.30 L117.52,437.42 A12.3,12.3 0 0 1 120.70,437.00 Z" fill="#dd55c4"/>
<path d="M120.70,449.30 L118.56,437.19 A12.3,12.3 0 0 1 120.70,437.00 Z" fill="#a80a28"/>
<path d="M120.70,449.30 L120.06,437.02 A12.3,12.3 0 0 1 120.70,437.00 Z" fill="#f27c6c"/>
<circle cx="175.5" cy="449.3" r="14.0" fill="#c8c8c8"/>
<path d="M175.50,449.30 L164.78,440.30 A14.0,14.0 0 0 1 175.50,435.30 Z" fill="#7866e2"/>
<path d="M175.50,449.30 L170.71,436.14 A14.0,14.0 0 0 1 175.50,435.30 Z" fill="#dd55c4"/>
<path d="M175.50,449.30 L171.88,435.78 A14.0,14.0 0 0 1 175.50,435.30 Z" fill="#a80a28"/>
<path d="M175.50,449.30 L174.28,435.35 A14.0,14.0 0 0 1 175.50,435.30 Z" fill="#de141c"/>
<circle cx="230.6" cy="449.3" r="14.5" fill="#c8c8c8"/>
<path d="M230.60,449.30 L222.92,437.00 A14.5,14.5 0 0 1 230.60,434.80 Z" fill="#7866e2"/>
<path d="M230.60,449.30 L226.85,435.29 A14.5,14.5 0 0 1 230.60,434.80 Z" fill="#a80a28"/>
<path d="M230.60,449.30 L228.58,434.94 A14.5,14.5 0 0 1 230.60,434.80 Z" fill="#f27c6c"/>
<circle cx="285.3" cy="449.3" r="9.6" fill="#c8c8c8"/>
<path d="M285.30,449.30 L276.99,444.50 A9.6,9.6 0 0 1 285.30,439.70 Z" fill="#7866e2"/>
<path d="M285.30,449.30 L281.24,440.60 A9.6,9.6 0 0 1 285.30,439.70 Z" fill="#cc99ee"/>
<path d="M285.30,449.30 L282.02,440.28 A9.6,9.6 0 0 1 285.30,439.70 Z" fill="#f27c6c"/>
<path d="M285.30,449.30 L283.63,439.85 A9.6,9.6 0 0 1 285.30,439.70 Z" fill="#de141c"/>
<circle cx="340.2" cy="449.3" r="15.5" fill="#c8c8c8"/>
<path d="M340.20,449.30 L326.78,441.55 A15.5,15.5 0 0 1 340.20,433.80 Z" fill="#7866e2"/>
<path d="M340.20,449.30 L333.65,435.25 A15.5,15.5 0 0 1 340.20,433.80 Z" fill="#dd55c4"/>
<path d="M340.20,449.30 L336.19,434.33 A15.5,15.5 0 0 1 340.20,433.80 Z" fill="#de141c"/>
<path d="M340.20,449.30 L338.04,433.95 A15.5,15.5 0 0 1 340.20,433.80 Z" fill="#a80a28"/>
<circle cx="395.0" cy="449.3" r="7.3" fill="#c8c8c8"/>
<path d="M395.00,449.30 L388.68,445.65 A7.3,7.3 0 0 1 395.00,442.00 Z" fill="#cc99ee"/>
<path d="M395.00,449.30 L390.12,443.88 A7.3,7.3 0 0 1 395.00,442.00 Z" fill="#dd55c4"/>
<path d="M395.00,449.30 L391.57,442.85 A7.3,7.3 0 0 1 395.00,442.00 Z" fill="#a80a28"/>
<path d="M395.00,449.30 L393.98,442.07 A7.3,7.3 0 0 1 395.00,442.00 Z" fill="#f27c6c"/>
<circle cx="449.9" cy="449.3" r="6.3" fill="#c8c8c8"/>
<path d="M449.90,449.30 L446.29,454.46 A6.3,6.3 0 0 1 449.90,443.00 Z" fill="#cc99ee"/>
<path d="M449.90,449.30 L443.98,451.45 A6.3,6.3 0 0 1 449.90,443.00 Z" fill="#7866e2"/>
<path d="M449.90,449.30 L443.60,449.08 A6.3,6.3 0 0 1 449.90,443.00 Z" fill="#dd55c4"/>
<path d="M449.90,449.30 L444.44,446.15 A6.3,6.3 0 0 1 449.90,443.00 Z" fill="#de141c"/>
<path d="M449.90,449.30 L448.27,443.21 A6.3,6.3 0 0 1 449.90,443.00 Z" fill="#f27c6c"/>
<circle cx="504.7" cy="449.3" r="9.0" fill="#c8c8c8"/>
<path d="M504.70,449.30 L496.24,446.22 A9.0,9.0 0 0 1 504.70,440.30 Z" fill="#7866e2"/>
<path d="M504.70,449.30 L498.91,442.41 A9.0,9.0 0 0 1 504.70,440.30 Z" fill="#dd55c4"/>
<path d="M504.70,449.30 L500.20,441.51 A9.0,9.0 0 0 1 504.70,440.30 Z" fill="#a80a28"/>
<path d="M504.70,449.30 L504.39,440.31 A9.0,9.0 0 0 1 504.70,440.30 Z" fill="#f27c6c"/>
<circle cx="559.8" cy="449.3" r="8.6" fill="#c8c8c8"/>
<path d="M559.80,449.30 L551.20,449.30 A8.6,8.6 0 0 1 559.80,440.70 Z" fill="#cc99ee"/>
<path d="M559.80,449.30 L551.49,447.07 A8.6,8.6 0 0 1 559.80,440.70 Z" fill="#7866e2"/>
<path d="M559.80,449.30 L552.35,445.00 A8.6,8.6 0 0 1 559.80,440.70 Z" fill="#dd55c4"/>
<path d="M559.80,449.30 L554.27,442.71 A8.6,8.6 0 0 1 559.80,440.70 Z" fill="#de141c"/>
<path d="M559.80,449.30 L556.17,441.51 A8.6,8.6 0 0 1 559.80,440.70 Z" fill="#f27c6c"/>
<path d="M559.80,449.30 L557.57,440.99 A8.6,8.6 0 0 1 559.80,440.70 Z" fill="#a80a28"/>
<circle cx="614.5" cy="449.3" r="8.0" fill="#c8c8c8"/>
<path d="M614.50,449.30 L606.98,446.56 A8.0,8.0 0 0 1 614.50,441.30 Z" fill="#7866e2"/>
<path d="M614.50,449.30 L608.37,444.16 A8.0,8.0 0 0 1 614.50,441.30 Z" fill="#dd55c4"/>
<path d="M614.50,449.30 L611.76,441.78 A8.0,8.0 0 0 1 614.50,441.30 Z" fill="#f27c6c"/>
<circle cx="669.5" cy="449.3" r="9.5" fill="#c8c8c8"/>
<path d="M669.50,449.30 L662.78,442.58 A9.5,9.5 0 0 1 669.50,439.80 Z" fill="#cc99ee"/>
<path d="M669.50,449.30 L665.49,440.69 A9.5,9.5 0 0 1 669.50,439.80 Z" fill="#7866e2"/>
<path d="M669.50,449.30 L667.04,440.12 A9.5,9.5 0 0 1 669.50,439.80 Z" fill="#dd55c4"/>
<path d="M669.50,449.30 L667.85,439.94 A9.5,9.5 0 0 1 669.50,439.80 Z" fill="#f27c6c"/>
<circle cx="65.5" cy="508.4" r="12.0" fill="#c8c8c8"/>
<path d="M65.50,508.40 L56.31,500.69 A12.0,12.0 0 0 1 65.50,496.40 Z" fill="#7866e2"/>
<path d="M65.50,508.40 L62.39,496.81 A12.0,12.0 0 0 1 65.50,496.40 Z" fill="#cc99ee"/>
<path d="M65.50,508.40 L63.42,496.58 A12.0,12.0 0 0 1 65.50,496.40 Z" fill="#de141c"/>
<path d="M65.50,508.40 L65.08,496.41 A12.0,12.0 0 0 1 65.50,496.40 Z" fill="#f27c6c"/>
<circle cx="120.7" cy="508.4" r="12.3" fill="#c8c8c8"/>
<path d="M120.70,508.40 L112.00,499.70 A12.3,12.3 0 0 1 120.70,496.10 Z" fill="#7866e2"/>
<path d="M120.70,508.40 L116.49,496.84 A12.3,12.3 0 0 1 120.70,496.10 Z" fill="#dd55c4"/>
<path d="M120.70,508.40 L118.99,496.22 A12.3,12.3 0 0 1 120.70,496.10 Z" fill="#a80a28"/>
<circle cx="175.5" cy="508.4" r="8.4" fill="#c8c8c8"/>
<path d="M175.50,508.40 L171.30,501.13 A8.4,8.4 0 0 1 175.50,500.00 Z" fill="#dd55c4"/>
<path d="M175.50,508.40 L172.90,500.41 A8.4,8.4 0 0 1 175.50,500.00 Z" fill="#a80a28"/>
<path d="M175.50,508.40 L175.21,500.01 A8.4,8.4 0 0 1 175.50,500.00 Z" fill="#f27c6c"/>
<circle cx="230.6" cy="508.4" r="13.2" fill="#c8c8c8"/>
<path d="M230.60,508.40 L225.23,496.34 A13.2,13.2 0 0 1 230.60,495.20 Z" fill="#7866e2"/>
<path d="M230.60,508.40 L226.74,495.78 A13.2,13.2 0 0 1 230.60,495.20 Z" fill="#cc99ee"/>
<path d="M230.60,508.40 L228.31,495.40 A13.2,13.2 0 0 1 230.60,495.20 Z" fill="#a80a28"/>
<path d="M230.60,508.40 L229.68,495.23 A13.2,13.2 0 0 1 230.60,495.20 Z" fill="#f27c6c"/>
<circle cx="285.3" cy="508.4" r="12.3" fill="#c8c8c8"/>
<path d="M285.30,508.40 L274.15,503.20 A12.3,12.3 0 0 1 285.30,496.10 Z" fill="#7866e2"/>
<path d="M285.30,508.40 L279.15,497.75 A12.3,12.3 0 0 1 285.30,496.10 Z" fill="#cc99ee"/>
<path d="M285.30,508.40 L283.16,496.29 A12.3,12.3 0 0 1 285.30,496.10 Z" fill="#a80a28"/>
<path d="M285.30,508.40 L284.87,496.11 A12.3,12.3 0 0 1 285.30,496.10 Z" fill="#f27c6c"/>
<circle cx="340.2" cy="508.4" r="13.1" fill="#c8c8c8"/>
<path d="M340.20,508.40 L327.10,508.40 A13.1,13.1 0 0 1 340.20,495.30 Z" fill="#7866e2"/>
<path d="M340.20,508.40 L327.89,503.92 A13.1,13.1 0 0 1 340.20,495.30 Z" fill="#dd55c4"/>
<path d="M340.20,508.40 L333.65,497.06 A13.1,13.1 0 0 1 340.20,495.30 Z" fill="#de141c"/>
<path d="M340.20,508.40 L335.72,496.09 A13.1,13.1 0 0 1 340.20,495.30 Z" fill="#f27c6c"/>
<path d="M340.20,508.40 L339.06,495.35 A13.1,13.1 0 0 1 340.20,495.30 Z" fill="#a80a28"/>
<circle cx="395.0" cy="508.4" r="10.0" fill="#c8c8c8"/>
<path d="M395.00,508.40 L386.34,503.40 A10.0,10.0 0 0 1 395.00,498.40 Z" fill="#cc99ee"/>
<path d="M395.00,508.40 L387.57,501.71 A10.0,10.0 0 0 1 395.00,498.40 Z" fill="#7866e2"/>
<path d="M395.00,508.40 L388.31,500.97 A10.0,10.0 0 0 1 395.00,498.40 Z" fill="#dd55c4"/>
<path d="M395.00,508.40 L390.31,499.57 A10.0,10.0 0 0 1 395.00,498.40 Z" fill="#f27c6c"/>
<path d="M395.00,508.40 L392.41,498.74 A10.0,10.0 0 0 1 395.00,498.40 Z" fill="#a80a28"/>
<path d="M395.00,508.40 L394.30,498.42 A10.0,10.0 0 0 1 395.00,498.40 Z" fill="#f27c6c"/>
<circle cx="449.9" cy="508.4" r="8.1" fill="#c8c8c8"/>
<path d="M449.90,508.40 L447.67,516.19 A8.1,8.1 0 0 1 449.90,500.30 Z" fill="#cc99ee"/>
<path d="M449.90,508.40 L442.89,512.45 A8.1,8.1 0 0 1 449.90,500.30 Z" fill="#dd55c4"/>
<path d="M449.90,508.40 L441.88,509.53 A8.1,8.1 0 0 1 449.90,500.30 Z" fill="#f27c6c"/>
<path d="M449.90,508.40 L441.83,507.69 A8.1,8.1 0 0 1 449.90,500.30 Z" fill="#de141c"/>
<path d="M449.90,508.40 L442.29,505.63 A8.1,8.1 0 0 1 449.90,500.30 Z" fill="#a80a28"/>
<circle cx="504.7" cy="508.4" r="8.6" fill="#c8c8c8"/>
<path d="M504.70,508.40 L499.77,501.36 A8.6,8.6 0 0 1 504.70,499.80 Z" fill="#dd55c4"/>
<path d="M504.70,508.40 L502.47,500.09 A8.6,8.6 0 0 1 504.70,499.80 Z" fill="#a80a28"/>
<circle cx="559.8" cy="508.4" r="10.2" fill="#c8c8c8"/>
<path d="M559.80,508.40 L551.99,501.84 A10.2,10.2 0 0 1 559.80,498.20 Z" fill="#dd55c4"/>
<path d="M559.80,508.40 L558.03,498.35 A10.2,10.2 0 0 1 559.80,498.20 Z" fill="#a80a28"/>
<circle cx="614.5" cy="508.4" r="8.0" fill="#c8c8c8"/>
<path d="M614.50,508.40 L606.98,505.66 A8.0,8.0 0 0 1 614.50,500.40 Z" fill="#cc99ee"/>
<path d="M614.50,508.40 L609.36,502.27 A8.0,8.0 0 0 1 614.50,500.40 Z" fill="#dd55c4"/>
<path d="M614.50,508.40 L611.76,500.88 A8.0,8.0 0 0 1 614.50,500.40 Z" fill="#a80a28"/>
<circle cx="669.5" cy="508.4" r="8.0" fill="#c8c8c8"/>
<path d="M669.50,508.40 L661.50,508.40 A8.0,8.0 0 0 1 669.50,500.40 Z" fill="#cc99ee"/>
<path d="M669.50,508.40 L666.76,500.88 A8.0,8.0 0 0 1 669.50,500.40 Z" fill="#de141c"/>
<text x="143.4" y="590.1" font-family='"Liberation Sans", sans-serif' font-size="18.4" fill="#111">Cytokines</text>
<rect x="88" y="604.00" width="12.8" height="12.6" fill="#c6c6c6"/>
<text x="106" y="615.60" font-family='"Liberation Sans", sans-serif' font-size="15" fill="#1a1a1a">CD154+, IFN<tspan font-family="Liberation Serif" font-size="15.5">γ</tspan><tspan dx="0.6">-</tspan>, IL2-, TNF<tspan font-family="Liberation Serif" font-size="16">α</tspan>-</text>
<rect x="88" y="622.63" width="12.8" height="12.6" fill="#7564d6"/>
<text x="106" y="634.23" font-family='"Liberation Sans", sans-serif' font-size="15" fill="#1a1a1a">CD154+, IFN<tspan font-family="Liberation Serif" font-size="15.5">γ</tspan><tspan dx="0.6">+</tspan>, IL2-, TNF<tspan font-family="Liberation Serif" font-size="16">α</tspan>-</text>
<rect x="88" y="641.26" width="12.8" height="12.6" fill="#dc52c0"/>
<text x="106" y="652.86" font-family='"Liberation Sans", sans-serif' font-size="15" fill="#1a1a1a">CD154+, IFN<tspan font-family="Liberation Serif" font-size="15.5">γ</tspan><tspan dx="0.6">-</tspan>, IL2+, TNF<tspan font-family="Liberation Serif" font-size="16">α</tspan>-</text>
<rect x="88" y="659.89" width="12.8" height="12.6" fill="#cc9af0"/>
<text x="106" y="671.49" font-family='"Liberation Sans", sans-serif' font-size="15" fill="#1a1a1a">CD154+, IFN<tspan font-family="Liberation Serif" font-size="15.5">γ</tspan><tspan dx="0.6">-</tspan>, IL2-, TNF<tspan font-family="Liberation Serif" font-size="16">α</tspan>+</text>
<rect x="88" y="678.52" width="12.8" height="12.6" fill="#cc1020"/>
<text x="106" y="690.12" font-family='"Liberation Sans", sans-serif' font-size="15" fill="#1a1a1a">CD154+, IFN<tspan font-family="Liberation Serif" font-size="15.5">γ</tspan><tspan dx="0.6">+</tspan>, IL2+, TNF<tspan font-family="Liberation Serif" font-size="16">α</tspan>-</text>
<rect x="88" y="697.15" width="12.8" height="12.6" fill="#dc3a34"/>
<text x="106" y="708.75" font-family='"Liberation Sans", sans-serif' font-size="15" fill="#1a1a1a">CD154+, IFN<tspan font-family="Liberation Serif" font-size="15.5">γ</tspan><tspan dx="0.6">+</tspan>, IL2-, TNF<tspan font-family="Liberation Serif" font-size="16">α</tspan>+</text>
<rect x="88" y="715.78" width="12.8" height="12.6" fill="#f07a6a"/>
<text x="106" y="727.38" font-family='"Liberation Sans", sans-serif' font-size="15" fill="#1a1a1a">CD154+, IFN<tspan font-family="Liberation Serif" font-size="15.5">γ</tspan><tspan dx="0.6">-</tspan>, IL2+, TNF<tspan font-family="Liberation Serif" font-size="16">α</tspan>+</text>
<rect x="88" y="734.41" width="12.8" height="12.6" fill="#9c0a2a"/>
<text x="106" y="746.01" font-family='"Liberation Sans", sans-serif' font-size="15" fill="#1a1a1a">CD154+, IFN<tspan font-family="Liberation Serif" font-size="15.5">γ</tspan><tspan dx="0.6">+</tspan>, IL2+, TNF<tspan font-family="Liberation Serif" font-size="16">α</tspan>+</text>
<text x="540" y="575.8" text-anchor="middle" font-family='"Liberation Sans", sans-serif' font-size="18.7" fill="#111">Total secreted</text>
<text x="542" y="598.6" text-anchor="middle" font-family='"Liberation Sans", sans-serif' font-size="18.7" fill="#111">cytokines (%)</text>
<circle cx="548.8" cy="625.4" r="2.1" fill="#a8a8a8"/>
<g clip-path="url(#cb0)"><circle cx="548.9" cy="643.75" r="12.299999999999999" fill="#d2d2d2" stroke="#a6a6a6" stroke-width="1.8"/></g>
<g clip-path="url(#cb1)"><circle cx="548.9" cy="662.65" r="17.599999999999998" fill="#d2d2d2" stroke="#a6a6a6" stroke-width="1.8"/></g>
<g clip-path="url(#cb2)"><circle cx="548.9" cy="681.05" r="21.5" fill="#d2d2d2" stroke="#a6a6a6" stroke-width="1.8"/></g>
<g clip-path="url(#cb3)"><circle cx="548.9" cy="699.70" r="25.0" fill="#d2d2d2" stroke="#a6a6a6" stroke-width="1.8"/></g>
<g clip-path="url(#cb4)"><circle cx="548.9" cy="718.40" r="28.25" fill="#d2d2d2" stroke="#a6a6a6" stroke-width="1.8"/></g>
<text x="581.5" y="630.5" font-family='"Liberation Sans", sans-serif' font-size="14.4" fill="#111">0.0</text>
<text x="581.5" y="649.0" font-family='"Liberation Sans", sans-serif' font-size="14.4" fill="#111">0.2</text>
<text x="581.5" y="667.5" font-family='"Liberation Sans", sans-serif' font-size="14.4" fill="#111">0.4</text>
<text x="581.5" y="686.0" font-family='"Liberation Sans", sans-serif' font-size="14.4" fill="#111">0.6</text>
<text x="581.5" y="704.5" font-family='"Liberation Sans", sans-serif' font-size="14.4" fill="#111">0.8</text>
<text x="581.5" y="723.0" font-family='"Liberation Sans", sans-serif' font-size="14.4" fill="#111">1.0</text>
</svg>
</body></html>
